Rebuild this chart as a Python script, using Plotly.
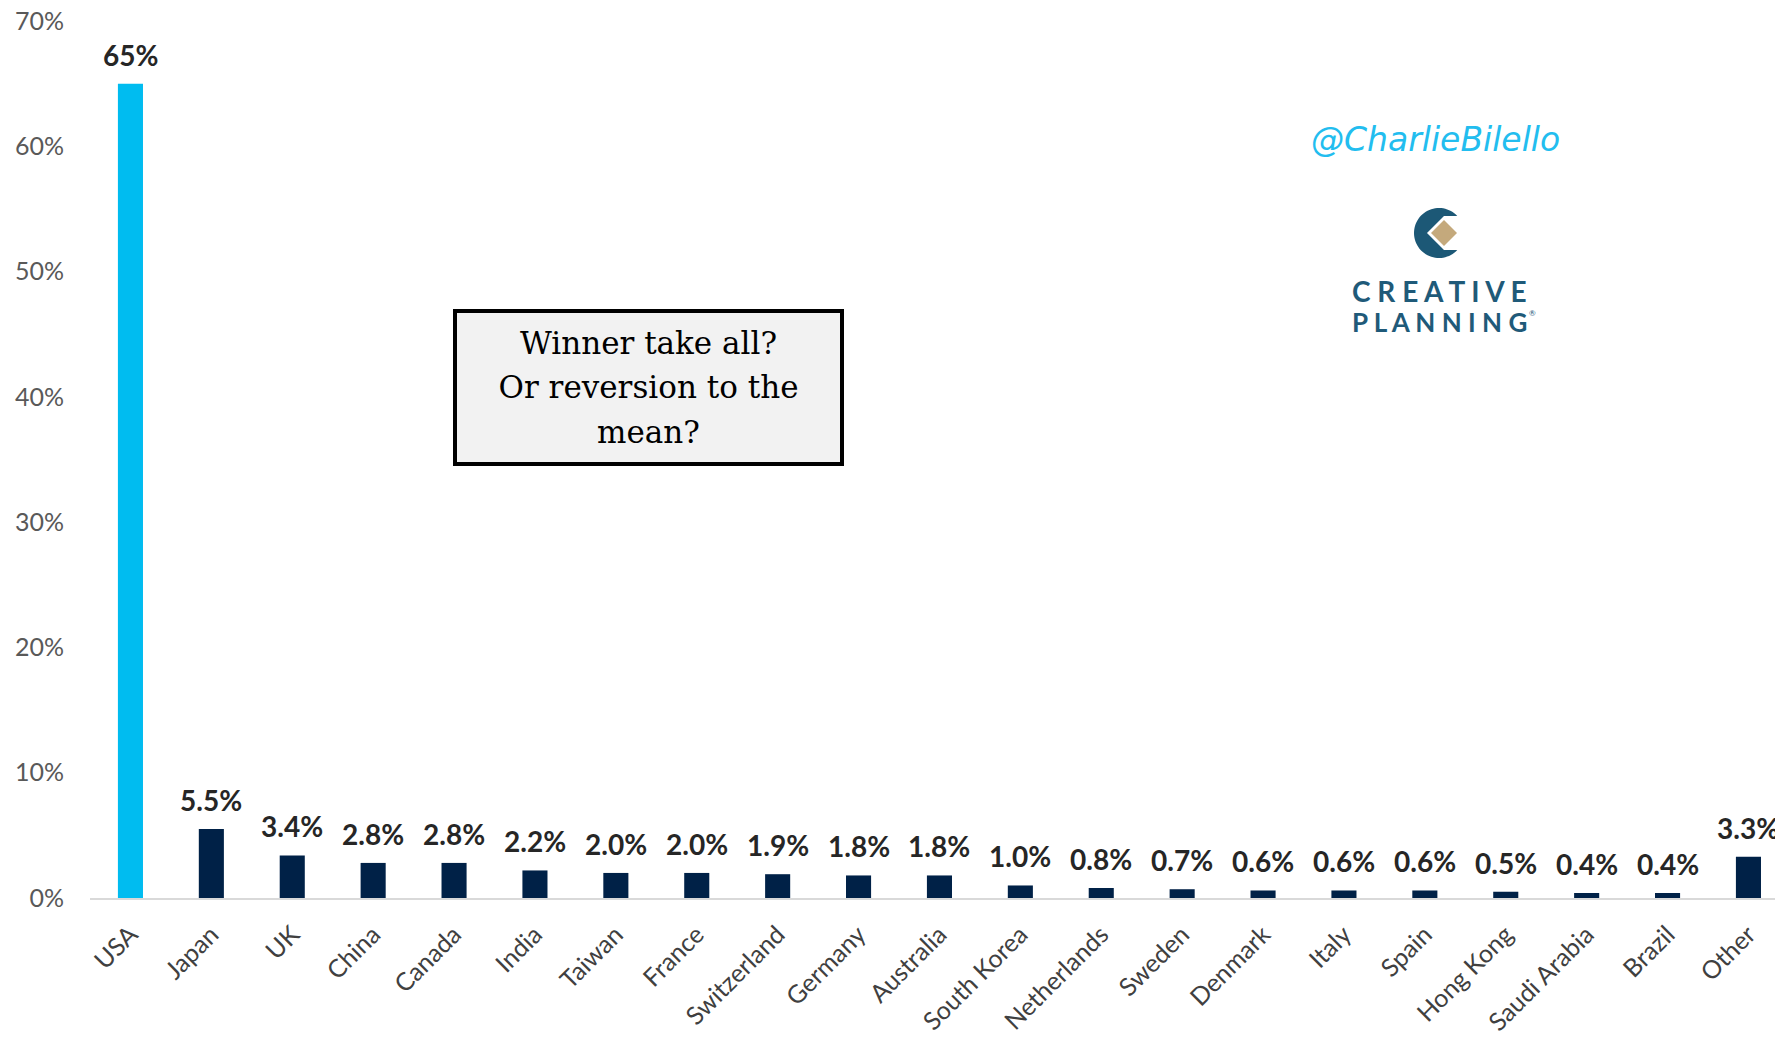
import numpy as np
import plotly.graph_objects as go

# ---------------- data ----------------
countries = ["USA", "Japan", "UK", "China", "Canada", "India", "Taiwan", "France",
             "Switzerland", "Germany", "Australia", "South Korea", "Netherlands",
             "Sweden", "Denmark", "Italy", "Spain", "Hong Kong", "Saudi Arabia",
             "Brazil", "Other"]
weights = [65, 5.5, 3.4, 2.8, 2.8, 2.2, 2.0, 2.0, 1.9, 1.8, 1.8, 1.0, 0.8,
           0.7, 0.6, 0.6, 0.6, 0.5, 0.4, 0.4, 3.3]
value_labels = ["65%", "5.5%", "3.4%", "2.8%", "2.8%", "2.2%", "2.0%", "2.0%",
                "1.9%", "1.8%", "1.8%", "1.0%", "0.8%", "0.7%", "0.6%", "0.6%",
                "0.6%", "0.5%", "0.4%", "0.4%", "3.3%"]
y_tickvals = [0, 10, 20, 30, 40, 50, 60, 70]
y_ticktext = ["0%", "10%", "20%", "30%", "40%", "50%", "60%", "70%"]

# ---------------- layout geometry ----------------
W, H = 1775, 1040
ML, MR, MT, MB = 90, 0, 21, 142
PW, PH = W - ML - MR, H - MT - MB


def px(x):
    return (x - ML) / PW


def py(y):
    return (H - MB - y) / PH


USA_COLOR = "#00BCF0"
NAVY = "#002147"
bar_colors = [USA_COLOR if c == "USA" else NAVY for c in countries]

fig = go.Figure()
fig.add_trace(go.Bar(
    x=countries, y=weights, width=0.31,
    marker=dict(color=bar_colors, line=dict(width=0)),
    hoverinfo="x+y", showlegend=False,
))

annotations = []
for c, v, t in zip(countries, weights, value_labels):
    annotations.append(dict(
        x=c, y=v, xref="x", yref="y", text=t, showarrow=False,
        yanchor="bottom", xanchor="center", yshift=10,
        font=dict(family="Lato", size=28, color="#262626", weight="bold"),
    ))

# question box
annotations.append(dict(
    x=px(648.5), y=py(387.5), xref="paper", yref="paper",
    text=("<span style='font-size:31px'>Winner take all?</span><br>"
          "<span style='font-size:31px'>Or reversion to the</span><br>"
          "<span style='font-size:31px'>mean?</span>"),
    showarrow=False, align="center", xanchor="center", yanchor="middle",
    font=dict(family="DejaVu Serif", size=34, color="#000000"),
    bgcolor="#F2F2F2", bordercolor="#000000", borderwidth=4, borderpad=4,
    width=375, height=141,
))

# watermark
annotations.append(dict(
    x=px(1435), y=py(139), xref="paper", yref="paper",
    text="@CharlieBilello", showarrow=False, xanchor="center", yanchor="middle",
    font=dict(family="DejaVu Sans", size=33, color="#22BDEF", style="italic"),
))
# logo text
for txt, yy, fs in [("C R E A T I V E", 291, 28), ("P L A N N I N G", 322, 26)]:
    annotations.append(dict(
        x=px(1439), y=py(yy), xref="paper", yref="paper",
        text=txt, showarrow=False, xanchor="center", yanchor="middle",
        font=dict(family="Lato", size=fs, color="#1F5A79", weight="bold"),
    ))
annotations.append(dict(
    x=px(1527), y=py(313), xref="paper", yref="paper",
    text="®", showarrow=False, xanchor="left", yanchor="middle",
    font=dict(family="Lato", size=8, color="#1F5A79"),
))

# logo mark: C shape + diamond
cx, cy, R = 1439, 233, 25
ang = np.linspace(np.deg2rad(43), np.deg2rad(317), 60)
pts = [(cx + R * np.cos(a), cy - R * np.sin(a)) for a in ang]
inner = [(cx + 18, cy + 17), (cx + 5, cy + 17), (cx - 12, cy), (cx + 5, cy - 17), (cx + 18, cy - 17)]
path_pts = pts + inner
path = "M " + " L ".join(f"{px(x):.5f},{py(y):.5f}" for x, y in path_pts) + " Z"
shapes = [dict(type="path", xref="paper", yref="paper", path=path,
               fillcolor="#1C5876", line=dict(width=0))]
dcx, dcy, d = cx + 5, cy, 13
dpts = [(dcx - d, dcy), (dcx, dcy - d), (dcx + d, dcy), (dcx, dcy + d)]
dpath = "M " + " L ".join(f"{px(x):.5f},{py(y):.5f}" for x, y in dpts) + " Z"
shapes.append(dict(type="path", xref="paper", yref="paper", path=dpath,
                   fillcolor="#C4A97C", line=dict(width=0)))

fig.update_layout(
    width=W, height=H,
    margin=dict(l=ML, r=MR, t=MT, b=MB, pad=0, autoexpand=False),
    paper_bgcolor="white", plot_bgcolor="white",
    bargap=0.69,
    annotations=annotations, shapes=shapes,
    xaxis=dict(
        range=[-0.5, -0.5 + PW / 80.9], showgrid=False, zeroline=False,
        showline=True, linecolor="#D9D9D9", linewidth=2, automargin=False,
        tickangle=-45, ticks="", ticklabelstandoff=10,
        tickfont=dict(family="Lato", size=25, color="#404040"),
    ),
    yaxis=dict(
        range=[0, 70], tickvals=y_tickvals, ticktext=y_ticktext,
        showgrid=False, zeroline=False, showline=False, ticks="",
        ticklabelstandoff=25, automargin=False,
        tickfont=dict(family="Lato", size=25, color="#595959"),
    ),
)

fig.write_html("out.html")
